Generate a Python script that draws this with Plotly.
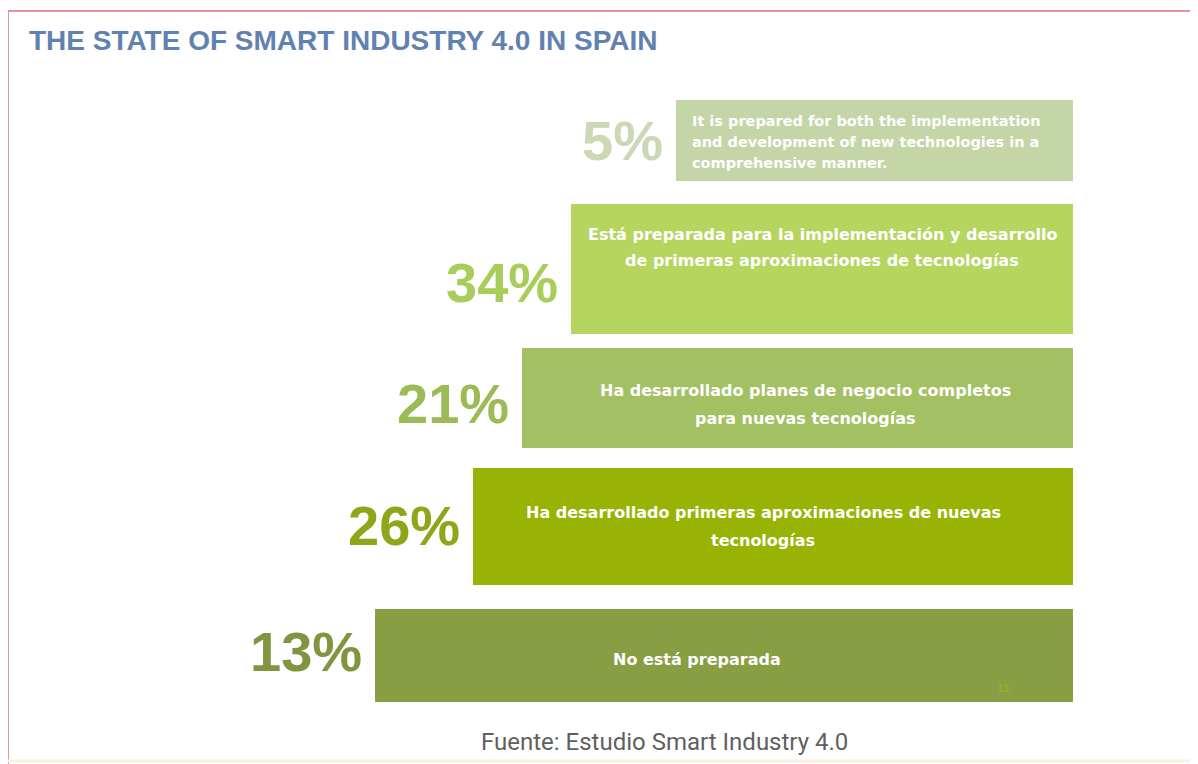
import plotly.graph_objects as go

# values (top to bottom)
pct = [5, 34, 21, 26, 13]
labels = [
    "It is prepared for both the implementation<br>and development of new technologies in a<br>comprehensive manner.",
    "Está preparada para la implementación y desarrollo<br>de primeras aproximaciones de tecnologías",
    "Ha desarrollado planes de negocio completos<br>para nuevas tecnologías",
    "Ha desarrollado primeras aproximaciones de nuevas<br>tecnologías",
    "No está preparada",
]
title = "THE STATE OF SMART INDUSTRY 4.0 IN SPAIN"
source = "Fuente: Estudio Smart Industry 4.0"

# layout of the staircase (bar length / thickness are drawing sizes, not data)
bar_len = [397, 502, 551, 600, 698]
thickness = [0.63, 1.01, 0.77, 0.91, 0.72]
bar_colors = ["#c4d5a7", "#b6d55f", "#a3c062", "#98b304", "#879e43"]
pct_colors = ["#cbd8b4", "#a9cd5b", "#9cbb57", "#8ea61a", "#7f9540"]
pct_dy = [0, 13, 5, -1, -4]          # px, down is positive
text_dx = [14, 0, 8, -10, -27]
text_dy = [1, -22, 6, 0, 4]
line_gap = [21, 26, 28, 28, 28]

W, H = 1198, 764
OFF = 8  # page body margin, everything is drawn 8px up/left to compensate

cats = [f"{p}%" for p in pct]

fig = go.Figure(go.Bar(
    orientation="h",
    x=bar_len,
    y=cats,
    width=thickness,
    marker=dict(color=bar_colors, line=dict(width=0)),
    hoverinfo="skip",
))

annos = []
for i, c in enumerate(cats):
    # big percentage to the left of each step
    annos.append(dict(
        x=bar_len[i], y=c, text=c, showarrow=False,
        xanchor="right", yanchor="middle", xshift=-11, yshift=-pct_dy[i],
        font=dict(family="Liberation Sans, Arial", size=56, color=pct_colors[i], weight="bold"),
    ))
    # white description inside the bar, one annotation per line
    lines = labels[i].split("<br>")
    n = len(lines)
    for j, ln in enumerate(lines):
        off = text_dy[i] + (j - (n - 1) / 2) * line_gap[i]
        if i == 0:
            annos.append(dict(
                x=bar_len[i], y=c, text=ln, showarrow=False,
                xanchor="left", yanchor="middle", xshift=text_dx[i], yshift=-off,
                font=dict(family="DejaVu Sans", size=14.5, color="white", weight="bold"),
            ))
        else:
            annos.append(dict(
                x=bar_len[i] / 2, y=c, text=ln, showarrow=False,
                xanchor="center", yanchor="middle", xshift=text_dx[i], yshift=-off,
                font=dict(family="DejaVu Sans", size=16, color="white", weight="bold"),
            ))


def px(x, y):
    return (x - OFF) / W, 1 - (y - OFF) / H


tx, ty = px(27, 40)
annos.append(dict(
    x=tx, y=ty, xref="paper", yref="paper", text=title, showarrow=False,
    xanchor="left", yanchor="middle",
    font=dict(family="Liberation Sans, Arial", size=28, color="#6182b0", weight="bold"),
))
sx, sy = px(664, 742)
annos.append(dict(
    x=sx, y=sy, xref="paper", yref="paper", text=source, showarrow=False,
    xanchor="center", yanchor="middle",
    font=dict(family="Roboto", size=24, color="#5f5f5f"),
))
nx, ny = px(1003, 688)
annos.append(dict(
    x=nx, y=ny, xref="paper", yref="paper", text="13", showarrow=False,
    xanchor="center", yanchor="middle",
    font=dict(family="Liberation Sans", size=11, color="#93b12c", weight="bold"),
))

bx0, by1 = px(8, 11)
bx1, by0 = px(1195, 761)
fig.update_layout(
    width=W, height=H,
    margin=dict(l=0, r=0, t=0, b=0),
    paper_bgcolor="white", plot_bgcolor="white",
    showlegend=False,
    bargap=0,
    annotations=annos,
    shapes=[
        dict(type="line", xref="paper", yref="paper", x0=bx0, x1=bx0, y0=-0.02, y1=by1,
             line=dict(color="#e3949c", width=2), layer="above"),
        dict(type="line", xref="paper", yref="paper", x0=bx0, x1=1.02, y0=by1, y1=by1,
             line=dict(color="#e3949c", width=2), layer="above"),
        dict(type="line", xref="paper", yref="paper", x0=bx1, x1=bx1, y0=by0, y1=by1,
             line=dict(color="#eeeeee", width=1), layer="above"),
        dict(type="line", xref="paper", yref="paper", x0=bx0, x1=bx1, y0=by0, y1=by0,
             line=dict(color="#fbeee2", width=3), layer="above"),
    ],
)
fig.update_xaxes(range=[1073 - OFF, 1073 - OFF - W], visible=False, fixedrange=True)
top = -(140.5 - OFF) / 128.75
fig.update_yaxes(type="category", categoryorder="array", categoryarray=cats,
                 range=[top + H / 128.75, top], visible=False, fixedrange=True)

fig.write_html("out.html")
